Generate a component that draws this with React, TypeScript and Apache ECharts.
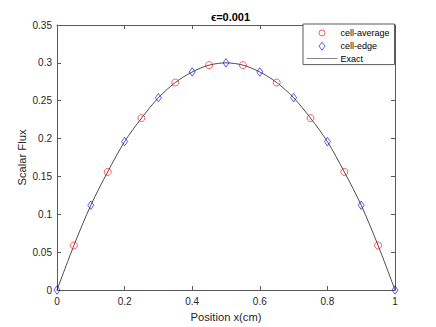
import React, { useEffect, useRef } from "react";
import * as echarts from "echarts";

const titleText = "\u03f5=0.001";
const cellAvgX = [0.05, 0.15, 0.25, 0.35, 0.45, 0.55, 0.65, 0.75, 0.85, 0.95];
const cellAvgY = [0.0588, 0.156, 0.227, 0.274, 0.297, 0.297, 0.274, 0.227, 0.156, 0.0588];
const cellEdgeX = [0, 0.1, 0.2, 0.3, 0.4, 0.5, 0.6, 0.7, 0.8, 0.9, 1.0];
const cellEdgeY = [0, 0.112, 0.196, 0.254, 0.288, 0.3, 0.288, 0.254, 0.196, 0.112, 0];
const exactX = [0, 0.05, 0.1, 0.15, 0.2, 0.25, 0.3, 0.35, 0.4, 0.45, 0.5, 0.55, 0.6, 0.65, 0.7, 0.75, 0.8, 0.85, 0.9, 0.95, 1.0];
const exactY = [0, 0.0588, 0.112, 0.156, 0.196, 0.227, 0.254, 0.274, 0.288, 0.297, 0.3, 0.297, 0.288, 0.274, 0.254, 0.227, 0.196, 0.156, 0.112, 0.0588, 0];

const AX = "#262626";
const AXLINE = "#5a5a5a";
const FONT = "Liberation Sans, Arial, Helvetica, sans-serif";

const DIAMOND_ICON = "path://M0,0M0,10M0,1L3,5L0,9L-3,5Z";
const CIRCLE_ICON = "path://M0,0M0,10M-3,5A3,3 0 1,1 3,5A3,3 0 1,1 -3,5Z";
const LINE_ICON = "path://M0,0L31,0L31,0.7L0,0.7Z";

function makeAxis(extra: any) {
  return {
    type: "value",
    axisLine: { show: true, onZero: false, lineStyle: { color: AXLINE, width: 1 } },
    axisTick: { show: true, inside: true, length: 4, lineStyle: { color: AXLINE, width: 1 } },
    splitLine: { show: false },
    nameMoveOverlap: false,
    ...extra,
  };
}

export default function App() {
  const ref = useRef<HTMLDivElement>(null);
  useEffect(() => {
    if (!ref.current) return;
    const chart = echarts.init(ref.current, undefined, { renderer: "svg" });
    const zip = (xs: number[], ys: number[]) => xs.map((x, i) => [x, ys[i]]);
    chart.setOption({
      animation: false,
      backgroundColor: "#ffffff",
      textStyle: { fontFamily: FONT },
      title: {
        text: titleText,
        left: 225.5,
        textAlign: "center",
        top: 6,
        textStyle: { fontSize: 11, fontWeight: "bold", color: "#000", fontFamily: FONT },
      },
      grid: { left: 57, right: 41, top: 25, bottom: 36, containLabel: false },
      legend: {
        orient: "vertical",
        left: 303,
        top: 24,
        padding: [3.5, 5, 1.5, 3.5],
        itemWidth: 31,
        itemHeight: 10,
        itemGap: 2.5,
        symbolKeepAspect: true,
        backgroundColor: "#ffffff",
        borderColor: AXLINE,
        borderWidth: 1,
        borderRadius: 0,
        textStyle: { fontSize: 9, color: "#000", fontFamily: FONT, padding: [0, 0, 0, -2] },
        data: [
          {
            name: "cell-average",
            icon: CIRCLE_ICON,
            itemStyle: { color: "rgba(0,0,0,0)", borderColor: "#ff0000", borderWidth: 0.8 },
          },
          {
            name: "cell-edge",
            icon: DIAMOND_ICON,
            itemStyle: { color: "rgba(0,0,0,0)", borderColor: "#0000ff", borderWidth: 0.8 },
          },
          {
            name: "Exact",
            icon: LINE_ICON,
            itemStyle: { color: "#555555", borderWidth: 0 },
          },
        ],
      },
      xAxis: [
        makeAxis({
          min: 0,
          max: 1,
          interval: 0.2,
          position: "bottom",
          name: "Position x(cm)",
          nameLocation: "middle",
          nameGap: 21,
          nameTextStyle: { color: AX, fontSize: 11.2, fontFamily: FONT },
          axisLabel: { color: AX, fontSize: 10, fontFamily: FONT, margin: 6 },
        }),
        makeAxis({
          min: 0,
          max: 1,
          interval: 0.2,
          position: "top",
          axisLabel: { show: false },
        }),
      ],
      yAxis: [
        makeAxis({
          min: 0,
          max: 0.35,
          interval: 0.05,
          position: "left",
          name: "Scalar Flux",
          nameLocation: "middle",
          nameGap: 30,
          nameTextStyle: { color: AX, fontSize: 11.2, fontFamily: FONT },
          axisLabel: { color: AX, fontSize: 10, fontFamily: FONT, margin: 5 },
        }),
        makeAxis({
          min: 0,
          max: 0.35,
          interval: 0.05,
          position: "right",
          axisLabel: { show: false },
        }),
      ],
      series: [
        {
          name: "cell-average",
          type: "scatter",
          data: zip(cellAvgX, cellAvgY),
          symbol: "circle",
          symbolSize: 7,
          itemStyle: { color: "rgba(0,0,0,0)", borderColor: "#ff0000", borderWidth: 0.8 },
          z: 3,
        },
        {
          name: "cell-edge",
          type: "scatter",
          data: zip(cellEdgeX, cellEdgeY),
          symbol: "diamond",
          symbolSize: [6, 8.5],
          itemStyle: { color: "rgba(0,0,0,0)", borderColor: "#0000ff", borderWidth: 0.8 },
          z: 3,
        },
        {
          name: "Exact",
          type: "line",
          data: zip(exactX, exactY),
          symbol: "none",
          showSymbol: false,
          smooth: 0.3,
          lineStyle: { color: "#000000", width: 0.7 },
          itemStyle: { color: "#000000" },
          z: 2,
        },
      ],
    });
    return () => chart.dispose();
  }, []);
  return <div ref={ref} style={{ width: 436, height: 327, position: "absolute", left: 0, top: 0 }} />;
}
